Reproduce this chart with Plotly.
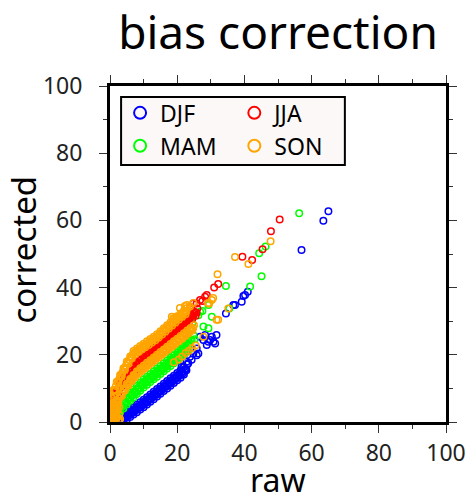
import plotly.graph_objects as go

# ---------------- data ----------------
djf_raw = [3, 4, 5, 6, 7, 8, 9, 10, 11, 12, 13, 14, 15, 16, 17, 18, 19, 20, 21, 22, 23,
           3.25, 4.25, 5.25, 6.25, 7.25, 8.25, 9.25, 10.25, 11.25, 12.25, 13.25, 14.25, 15.25, 16.25, 17.25, 18.25, 19.25, 20.25, 21.25, 22.25,
           3.5, 4.5, 5.5, 6.5, 7.5, 8.5, 9.5, 10.5, 11.5, 12.5, 13.5, 14.5, 15.5, 16.5, 17.5, 18.5, 19.5, 20.5, 21.5, 22.5,
           3.75, 4.75, 5.75, 6.75, 7.75, 8.75, 9.75, 10.75, 11.75, 12.75, 13.75, 14.75, 15.75, 16.75, 17.75, 18.75, 19.75, 20.75, 21.75, 22.75,
           4, 5, 6, 7, 8, 9, 10, 11, 12, 13, 14, 15, 16, 17, 18, 19, 20, 21, 22,
           2.2, 2.7, 21.3, 21.8, 22.8, 23.3, 23.8, 24.3, 24.8, 25.8, 25.8, 26.3, 26.8, 27.8, 28.3, 28.8,
           29.3, 29.8, 30.3, 30.8, 31.3, 31.7, 34.5, 36.7, 37.2, 39.2, 39.7, 40.2, 41.0, 57.0, 63.5, 65.0]
djf_corr = [1.5, 2.2, 2.9, 3.7, 4.4, 5.1, 5.9, 6.6, 7.4, 8.2, 9.0, 9.8, 10.6, 11.4, 12.2, 13.0, 13.8, 14.6, 15.4, 16.3, 17.1,
            0.92, 1.65, 2.39, 3.12, 3.85, 4.58, 5.32, 6.07, 6.87, 7.67, 8.47, 9.27, 10.07, 10.87, 11.67, 12.47, 13.27, 14.07, 14.87, 15.67,
            0.7, 1.5, 2.2, 2.9, 3.7, 4.4, 5.1, 5.9, 6.7, 7.5, 8.3, 9.1, 9.9, 10.7, 11.5, 12.3, 13.1, 13.9, 14.8, 15.6,
            0.55, 1.28, 2.01, 2.75, 3.48, 4.21, 4.95, 5.73, 6.53, 7.33, 8.13, 8.93, 9.73, 10.53, 11.33, 12.13, 12.93, 13.73, 14.53, 15.43,
            0.0, 0.7, 1.5, 2.2, 2.9, 3.7, 4.4, 5.2, 6.0, 6.8, 7.6, 8.4, 9.2, 10.0, 10.8, 11.6, 12.4, 13.2, 14.1,
            0.2, 0.8, 16.5, 16.5, 17.9, 17.5, 19.4, 18.5, 20.4, 21.9, 19.9, 20.4, 25.4, 24.4, 25.9, 22.9,
            23.9, 24.4, 25.4, 23.9, 23.4, 25.9, 32.3, 34.8, 34.8, 35.8, 37.5, 37.8, 38.8, 51.2, 59.9, 62.7]

mam_raw = [1, 2, 3, 4, 5, 6, 7, 8, 9, 10, 11, 12, 13, 14, 15, 16, 17, 18, 19, 20, 21, 22, 23, 24,
           1.25, 2.25, 3.25, 4.25, 5.25, 6.25, 7.25, 8.25, 9.25, 10.25, 11.25, 12.25, 13.25, 14.25, 15.25, 16.25, 17.25, 18.25, 19.25, 20.25, 21.25, 22.25, 23.25,
           1.5, 2.5, 3.5, 4.5, 5.5, 6.5, 7.5, 8.5, 9.5, 10.5, 11.5, 12.5, 13.5, 14.5, 15.5, 16.5, 17.5, 18.5, 19.5, 20.5, 21.5, 22.5, 23.5,
           1.75, 2.75, 3.75, 4.75, 5.75, 6.75, 7.75, 8.75, 9.75, 10.75, 11.75, 12.75, 13.75, 14.75, 15.75, 16.75, 17.75, 18.75, 19.75, 20.75, 21.75, 22.75,
           2, 3, 4, 5, 6, 7, 8, 9, 10, 11, 12, 13, 14, 15, 16, 17, 18, 19, 20, 21, 22, 23,
           18.4, 20.3, 21.5, 22.5, 22.5, 23.3, 23.5, 24.3, 24.5, 24.8, 25.2, 26.3, 26.8, 27.5, 27.8, 29.3,
           29.3, 30.3, 34.5, 35.5, 41.7, 45.1, 44.4, 46.3, 56.3]
mam_corr = [2.7, 3.95, 5.2, 6.45, 7.7, 8.7, 9.7, 10.7, 11.7, 12.7, 13.5, 14.3, 15.1, 15.9, 16.7, 17.5, 18.3, 19.1, 19.9, 20.7, 21.6, 22.5, 23.4, 24.3,
            2.21, 3.46, 4.71, 5.96, 7.15, 8.15, 9.15, 10.15, 11.15, 12.1, 12.9, 13.7, 14.5, 15.3, 16.1, 16.9, 17.7, 18.5, 19.3, 20.13, 21.03, 21.93, 22.83,
            2.1, 3.4, 4.6, 5.9, 7.0, 8.0, 9.0, 10.0, 11.0, 11.9, 12.7, 13.5, 14.3, 15.1, 15.9, 16.7, 17.5, 18.3, 19.1, 20.0, 20.9, 21.8, 22.7,
            2.04, 3.29, 4.54, 5.79, 6.85, 7.85, 8.85, 9.85, 10.85, 11.7, 12.5, 13.3, 14.1, 14.9, 15.7, 16.5, 17.3, 18.1, 18.9, 19.78, 20.68, 21.58,
            1.55, 2.8, 4.05, 5.3, 6.3, 7.3, 8.3, 9.3, 10.3, 11.1, 11.9, 12.7, 13.5, 14.3, 15.1, 15.9, 16.7, 17.5, 18.3, 19.2, 20.1, 21.0,
            19.9, 21.4, 23.0, 22.4, 27.5, 24.9, 23.8, 24.4, 29.5, 25.9, 24.6, 31.8, 32.8, 33.0, 28.4, 27.9,
            34.8, 31.3, 40.5, 33.8, 40.3, 43.4, 50.2, 52.2, 62.1]

jja_raw = [1, 2, 3, 4, 5, 6, 7, 8, 9, 10, 11, 12, 13, 14, 15, 16, 17, 18, 19, 20, 21, 22, 23, 24, 25, 26,
           1.25, 2.25, 3.25, 4.25, 5.25, 6.25, 7.25, 8.25, 9.25, 10.25, 11.25, 12.25, 13.25, 14.25, 15.25, 16.25, 17.25, 18.25, 19.25, 20.25, 21.25, 22.25, 23.25, 24.25, 25.25,
           1.5, 2.5, 3.5, 4.5, 5.5, 6.5, 7.5, 8.5, 9.5, 10.5, 11.5, 12.5, 13.5, 14.5, 15.5, 16.5, 17.5, 18.5, 19.5, 20.5, 21.5, 22.5, 23.5, 24.5, 25.5,
           1.75, 2.75, 3.75, 4.75, 5.75, 6.75, 7.75, 8.75, 9.75, 10.75, 11.75, 12.75, 13.75, 14.75, 15.75, 16.75, 17.75, 18.75, 19.75, 20.75, 21.75, 22.75, 23.75, 24.75, 25.75,
           23.8, 24.8, 25.8, 26.8, 27.5, 28.3, 28.8, 31.0, 32.2, 39.4, 42.3, 45.4, 47.9, 50.5]
jja_corr = [7.3, 9.4, 11.4, 13.1, 14.5, 15.7, 16.8, 17.8, 18.7, 19.5, 20.3, 21.2, 22.1, 23.0, 23.9, 24.8, 25.7, 26.6, 27.5, 28.4, 29.3, 30.2, 31.1, 32.0, 32.9, 33.8,
            7.2, 9.3, 11.2, 12.85, 14.2, 15.4, 16.45, 17.4, 18.3, 19.1, 20.0, 20.9, 21.8, 22.7, 23.6, 24.5, 25.4, 26.3, 27.2, 28.1, 29.0, 29.9, 30.8, 31.7, 32.6,
            6.5, 8.6, 10.5, 12.0, 13.3, 14.5, 15.5, 16.5, 17.3, 18.1, 19.0, 19.9, 20.8, 21.7, 22.6, 23.5, 24.4, 25.3, 26.2, 27.1, 28.0, 28.9, 29.8, 30.7, 31.6,
            7.7, 9.7, 11.5, 12.95, 14.2, 15.3, 16.35, 17.3, 18.1, 19.0, 19.9, 20.8, 21.7, 22.6, 23.5, 24.4, 25.3, 26.2, 27.1, 28.0, 28.9, 29.8, 30.7, 31.6, 32.5,
            34.3, 35.3, 35.3, 36.3, 36.0, 37.3, 37.8, 40.0, 41.1, 49.2, 48.2, 51.4, 56.8, 60.3]

son_raw = [1, 2, 3, 4, 5, 6, 7, 8, 9, 10, 11, 12, 13, 14, 15, 16, 17, 18, 19, 20, 21, 22, 23,
           1.25, 2.25, 3.25, 4.25, 5.25, 6.25, 7.25, 8.25, 9.25, 10.25, 11.25, 12.25, 13.25, 14.25, 15.25, 16.25, 17.25, 18.25, 19.25, 20.25, 21.25, 22.25,
           1.5, 2.5, 3.5, 4.5, 5.5, 6.5, 7.5, 8.5, 9.5, 10.5, 11.5, 12.5, 13.5, 14.5, 15.5, 16.5, 17.5, 18.5, 19.5, 20.5, 21.5, 22.5,
           1.75, 2.75, 3.75, 4.75, 5.75, 6.75, 7.75, 8.75, 9.75, 10.75, 11.75, 12.75, 13.75, 14.75, 15.75, 16.75, 17.75, 18.75, 19.75, 20.75, 21.75, 22.75,
           1, 2, 3, 4, 5, 6, 7, 8, 9, 10, 11, 12, 13, 14, 15, 16, 17, 18, 19, 20, 21, 22, 23, 24, 25,
           1.25, 2.25, 3.25, 4.25, 5.25, 6.25, 7.25, 8.25, 9.25, 10.25, 11.25, 12.25, 13.25, 14.25, 15.25, 16.25, 17.25, 18.25, 19.25, 20.25, 21.25, 22.25, 23.25, 24.25,
           1.5, 2.5, 3.5, 4.5, 5.5, 6.5, 7.5, 8.5, 9.5, 10.5, 11.5, 12.5, 13.5, 14.5, 15.5, 16.5, 17.5, 18.5, 19.5, 20.5, 21.5, 22.5, 23.5, 24.5,
           1.75, 2.75, 3.75, 4.75, 5.75, 6.75, 7.75, 8.75, 9.75, 10.75, 11.75, 12.75, 13.75, 14.75, 15.75, 16.75, 17.75, 18.75, 19.75, 20.75, 21.75, 22.75, 23.75, 24.75,
           0.2, 0.2, 0.2, 0.2, 0.2, 0.7, 0.7, 0.7, 0.7, 0.7, 1.2, 1.2, 1.2, 1.2, 1.2, 1.7, 1.7, 1.7, 1.7, 1.7,
           2.2, 2.2, 2.2, 2.7, 2.7, 2.7, 0.4, 0.5, 1.0, 1.5, 2.0, 2.5, 3.0, 0.5, 1.0, 0.3,
           19.0, 20.5, 21.5, 22.5, 23.5, 24.5, 25.5, 27.8, 31.7, 32.2, 35.2,
           18.4, 18.8, 20.3, 20.8, 21.8, 22.3, 22.9, 23.8, 24.8, 29.2, 29.5, 30.3, 30.7, 32.0, 37.2, 41.2, 47.8]
son_corr = [9.5, 12.0, 14.0, 16.0, 18.0, 19.5, 21.1, 21.9, 22.6, 23.3, 24.0, 24.7, 25.4, 26.1, 27.0, 27.9, 28.8, 29.7, 30.6, 31.5, 32.3, 33.1, 33.9,
            9.43, 11.8, 13.8, 15.8, 17.68, 19.2, 20.6, 21.38, 22.08, 22.78, 23.48, 24.18, 24.88, 25.63, 26.53, 27.43, 28.33, 29.23, 30.13, 31.0, 31.8, 32.6,
            9.35, 11.6, 13.6, 15.6, 17.35, 18.9, 20.1, 20.85, 21.55, 22.25, 22.95, 23.65, 24.35, 25.15, 26.05, 26.95, 27.85, 28.75, 29.65, 30.5, 31.3, 32.1,
            10.68, 12.8, 14.8, 16.8, 18.43, 20.0, 21.0, 21.73, 22.43, 23.13, 23.83, 24.53, 25.23, 26.08, 26.98, 27.88, 28.78, 29.68, 30.58, 31.4, 32.2, 33.0,
            4.1, 6.1, 8.1, 9.8, 11.4, 12.8, 14.0, 15.1, 16.0, 16.8, 17.6, 18.4, 19.2, 20.0, 20.8, 21.6, 22.4, 23.2, 24.0, 24.8, 25.6, 26.4, 27.2, 28.0, 28.8,
            4.0, 6.0, 7.93, 9.6, 11.15, 12.5, 13.68, 14.73, 15.6, 16.4, 17.2, 18.0, 18.8, 19.6, 20.4, 21.2, 22.0, 22.8, 23.6, 24.4, 25.2, 26.0, 26.8, 27.6,
            3.9, 5.9, 7.75, 9.4, 10.9, 12.2, 13.35, 14.35, 15.2, 16.0, 16.8, 17.6, 18.4, 19.2, 20.0, 20.8, 21.6, 22.4, 23.2, 24.0, 24.8, 25.6, 26.4, 27.2,
            5.0, 7.0, 8.78, 10.4, 11.85, 13.1, 14.23, 15.18, 16.0, 16.8, 17.6, 18.4, 19.2, 20.0, 20.8, 21.6, 22.4, 23.2, 24.0, 24.8, 25.6, 26.4, 27.2, 28.0,
            0.5, 2.0, 3.5, 5.0, 6.5, 1.0, 2.5, 4.0, 5.5, 7.0, 0.3, 1.5, 3.0, 5.0, 7.5, 0.8, 2.5, 4.0, 6.0, 9.5,
            1.5, 3.5, 5.0, 0.6, 2.2, 4.5, 7.5, 4.2, 3.0, 2.2, 1.2, 0.4, 0.9, 0.3, 0.2, 1.2,
            17.8, 18.6, 19.5, 20.5, 21.2, 22.0, 22.8, 25.4, 30.4, 30.4, 33.8,
            31.3, 30.9, 31.3, 33.9, 32.4, 34.5, 34.8, 34.4, 35.4, 35.4, 35.3, 36.3, 36.9, 44.0, 49.1, 47.0, 53.8]

seasons = ["DJF", "MAM", "JJA", "SON"]
colors = ["#0000ff", "#00ff00", "#ff0000", "#ffa500"]
legend_ids = ["legend", "legend", "legend2", "legend2"]
xs = [djf_raw, mam_raw, jja_raw, son_raw]
ys = [djf_corr, mam_corr, jja_corr, son_corr]

x_ticks = [0, 20, 40, 60, 80, 100]
y_ticks = [0, 20, 40, 60, 80, 100]

FONT = "Noto Sans"

fig = go.Figure()
for name, col, lg, x, y in zip(seasons, colors, legend_ids, xs, ys):
    fig.add_trace(go.Scatter(
        x=x, y=y, mode="markers", name=name, legend=lg,
        marker=dict(symbol="circle-open", size=6.5, color=col, line=dict(width=1.5, color=col)),
        cliponaxis=True,
    ))

axis_common = dict(
    range=[0, 100], showgrid=False, zeroline=False, automargin=False,
    showline=True, linewidth=3, linecolor="black", mirror="allticks",
    ticks="outside", ticklen=8, tickwidth=1, tickcolor="#333",
    minor=dict(dtick=10, ticks="outside", ticklen=4, tickwidth=1, tickcolor="#333"),
    tickfont=dict(family=FONT, size=23, color="#222"),
)

fig.update_layout(
    width=466, height=501,
    margin=dict(l=110, r=20, t=86, b=79),
    paper_bgcolor="white", plot_bgcolor="white",
    font=dict(family=FONT, color="black"),
    title=dict(text="bias correction", x=0.5, xref="paper", xanchor="center",
               y=0.934, yref="container", yanchor="middle", automargin=False,
               font=dict(family=FONT, size=46, color="black")),
    xaxis=dict(axis_common, tickvals=x_ticks, ticklabelstandoff=0),
    yaxis=dict(axis_common, tickvals=y_ticks, ticklabelstandoff=12),
    annotations=[
        dict(text="raw", xref="paper", yref="paper", x=0.5, y=-0.17,
             xanchor="center", yanchor="middle", showarrow=False,
             font=dict(family=FONT, size=32, color="black")),
        dict(text="corrected", xref="paper", yref="paper", x=-0.257, y=0.512,
             xanchor="center", yanchor="middle", showarrow=False, textangle=-90,
             font=dict(family=FONT, size=33, color="black")),
    ],
    legend=dict(x=0.03, y=0.984, xanchor="left", yanchor="top", bgcolor="rgba(0,0,0,0)",
                borderwidth=0, font=dict(family=FONT, size=23, color="black"),
                itemsizing="constant", tracegroupgap=0),
    legend2=dict(x=0.37, y=0.984, xanchor="left", yanchor="top", bgcolor="rgba(0,0,0,0)",
                 borderwidth=0, font=dict(family=FONT, size=23, color="black"),
                 itemsizing="constant", tracegroupgap=0),
    shapes=[dict(type="rect", xref="paper", yref="paper", x0=0.033, x1=0.699, y0=0.765, y1=0.967,
                 fillcolor="#fcf8f7", line=dict(color="black", width=2), layer="above")],
)

fig.write_html("out.html")
